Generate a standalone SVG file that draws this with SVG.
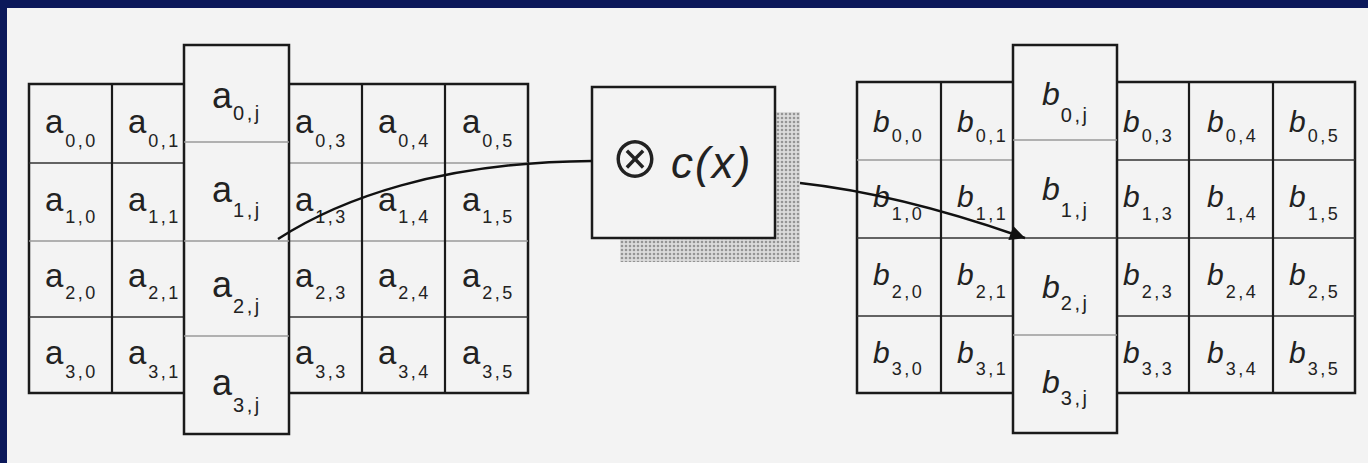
<svg xmlns="http://www.w3.org/2000/svg" width="1368" height="463" viewBox="0 0 1368 463">
<defs>
<style>
.bg{fill:#f3f3f3}
.box{fill:#f3f3f3;stroke:#1a1a1a;stroke-width:2.5}
.vd{stroke:#1a1a1a;stroke-width:2.2}
.hd{stroke:#333;stroke-width:1.6}
.hl{stroke:#9a9a9a;stroke-width:1.6}
.a{font-family:"Liberation Sans",Arial,sans-serif;font-size:33px;fill:#222}
.at{font-family:"Liberation Sans",Arial,sans-serif;font-size:36px;fill:#222}
.b{font-family:"Liberation Sans",Arial,sans-serif;font-size:30px;font-style:italic;fill:#222}
.bt{font-family:"Liberation Sans",Arial,sans-serif;font-size:32px;font-style:italic;fill:#222}
.s{font-size:18px;letter-spacing:2.5px;font-style:normal}
.st{font-size:20px;letter-spacing:2.5px;font-style:normal}
.conn{fill:none;stroke:#111;stroke-width:2.5}
</style>
<pattern id="dots" width="4" height="4" patternUnits="userSpaceOnUse">
<rect width="4" height="4" fill="#dcdcdc"/>
<circle cx="2" cy="2" r="1.3" fill="#959595"/>
</pattern>
<marker id="arr" viewBox="0 0 10 10" refX="10" refY="5" markerWidth="10" markerHeight="6" markerUnits="strokeWidth" orient="auto">
<path d="M0,0 L10,5 L0,10 z" fill="#111"/>
</marker>
</defs>
<rect width="1368" height="463" class="bg"/>
<rect x="0" y="0" width="1368" height="8" fill="#0b185a"/>
<rect x="0" y="0" width="7" height="463" fill="#0b185a"/>

<g id="matrix-a">
<rect x="29" y="84" width="499" height="309" class="box"/>
<line x1="29" y1="163" x2="184" y2="163" class="hd"/>
<line x1="29" y1="241" x2="184" y2="241" class="hl"/>
<line x1="29" y1="317" x2="184" y2="317" class="hd"/>
<line x1="289" y1="163" x2="528" y2="163" class="hl"/>
<line x1="289" y1="241" x2="528" y2="241" class="hl"/>
<line x1="289" y1="317" x2="528" y2="317" class="hd"/>
<line x1="112" y1="84" x2="112" y2="393" class="vd"/>
<line x1="362" y1="84" x2="362" y2="393" class="vd"/>
<line x1="445" y1="84" x2="445" y2="393" class="vd"/>
<rect x="184" y="45" width="105" height="389" class="box"/>
<line x1="184" y1="142" x2="289" y2="142" class="hl"/>
<line x1="184" y1="241" x2="289" y2="241" class="hl"/>
<line x1="184" y1="336" x2="289" y2="336" class="hl"/>
<text class="a" x="45" y="133">a<tspan class="s" dx="2" dy="14">0,0</tspan></text>
<text class="a" x="128" y="133">a<tspan class="s" dx="2" dy="14">0,1</tspan></text>
<text class="a" x="295" y="133">a<tspan class="s" dx="2" dy="14">0,3</tspan></text>
<text class="a" x="378" y="133">a<tspan class="s" dx="2" dy="14">0,4</tspan></text>
<text class="a" x="462" y="133">a<tspan class="s" dx="2" dy="14">0,5</tspan></text>
<text class="a" x="45" y="211">a<tspan class="s" dx="2" dy="12">1,0</tspan></text>
<text class="a" x="128" y="211">a<tspan class="s" dx="2" dy="12">1,1</tspan></text>
<text class="a" x="295" y="211">a<tspan class="s" dx="2" dy="12">1,3</tspan></text>
<text class="a" x="378" y="211">a<tspan class="s" dx="2" dy="12">1,4</tspan></text>
<text class="a" x="462" y="211">a<tspan class="s" dx="2" dy="12">1,5</tspan></text>
<text class="a" x="45" y="287">a<tspan class="s" dx="2" dy="12">2,0</tspan></text>
<text class="a" x="128" y="287">a<tspan class="s" dx="2" dy="12">2,1</tspan></text>
<text class="a" x="295" y="287">a<tspan class="s" dx="2" dy="12">2,3</tspan></text>
<text class="a" x="378" y="287">a<tspan class="s" dx="2" dy="12">2,4</tspan></text>
<text class="a" x="462" y="287">a<tspan class="s" dx="2" dy="12">2,5</tspan></text>
<text class="a" x="45" y="364">a<tspan class="s" dx="2" dy="14">3,0</tspan></text>
<text class="a" x="128" y="364">a<tspan class="s" dx="2" dy="14">3,1</tspan></text>
<text class="a" x="295" y="364">a<tspan class="s" dx="2" dy="14">3,3</tspan></text>
<text class="a" x="378" y="364">a<tspan class="s" dx="2" dy="14">3,4</tspan></text>
<text class="a" x="462" y="364">a<tspan class="s" dx="2" dy="14">3,5</tspan></text>
<text class="at" x="212" y="108">a<tspan class="st" dx="1" dy="12">0,j</tspan></text>
<text class="at" x="212" y="202">a<tspan class="st" dx="1" dy="15">1,j</tspan></text>
<text class="at" x="212" y="297">a<tspan class="st" dx="1" dy="16">2,j</tspan></text>
<text class="at" x="212" y="395">a<tspan class="st" dx="1" dy="17">3,j</tspan></text>
</g>

<g id="op-cx">
<rect x="620" y="112" width="180" height="150" fill="url(#dots)"/>
<rect x="592" y="87" width="183" height="151" class="box"/>
<text x="635" y="178" text-anchor="middle" font-family="Noto Sans CJK SC,DejaVu Sans,sans-serif" font-size="50" fill="#222">⊗</text>
<text x="671" y="178" font-family="Liberation Sans,Arial,sans-serif" font-size="44" font-style="italic" letter-spacing="2" fill="#222">c(x)</text>
</g>

<g id="matrix-b">
<rect x="857" y="82" width="498" height="311" class="box"/>
<line x1="857" y1="160" x2="1013" y2="160" class="hl"/>
<line x1="857" y1="238" x2="1013" y2="238" class="hd"/>
<line x1="857" y1="316" x2="1013" y2="316" class="hd"/>
<line x1="1117" y1="160" x2="1355" y2="160" class="hd"/>
<line x1="1117" y1="238" x2="1355" y2="238" class="hd"/>
<line x1="1117" y1="316" x2="1355" y2="316" class="hd"/>
<line x1="941" y1="82" x2="941" y2="393" class="vd"/>
<line x1="1189" y1="82" x2="1189" y2="393" class="vd"/>
<line x1="1273" y1="82" x2="1273" y2="393" class="vd"/>
<rect x="1013" y="45" width="104" height="388" class="box"/>
<line x1="1013" y1="140" x2="1117" y2="140" class="hl"/>
<line x1="1013" y1="238" x2="1117" y2="238" class="hd"/>
<line x1="1013" y1="335" x2="1117" y2="335" class="hl"/>
<text class="b" x="873" y="132">b<tspan class="s" dx="2" dy="10">0,0</tspan></text>
<text class="b" x="957" y="132">b<tspan class="s" dx="2" dy="10">0,1</tspan></text>
<text class="b" x="1123" y="132">b<tspan class="s" dx="2" dy="10">0,3</tspan></text>
<text class="b" x="1207" y="132">b<tspan class="s" dx="2" dy="10">0,4</tspan></text>
<text class="b" x="1289" y="132">b<tspan class="s" dx="2" dy="10">0,5</tspan></text>
<text class="b" x="873" y="207">b<tspan class="s" dx="2" dy="13">1,0</tspan></text>
<text class="b" x="957" y="207">b<tspan class="s" dx="2" dy="13">1,1</tspan></text>
<text class="b" x="1123" y="207">b<tspan class="s" dx="2" dy="13">1,3</tspan></text>
<text class="b" x="1207" y="207">b<tspan class="s" dx="2" dy="13">1,4</tspan></text>
<text class="b" x="1289" y="207">b<tspan class="s" dx="2" dy="13">1,5</tspan></text>
<text class="b" x="873" y="285">b<tspan class="s" dx="2" dy="13">2,0</tspan></text>
<text class="b" x="957" y="285">b<tspan class="s" dx="2" dy="13">2,1</tspan></text>
<text class="b" x="1123" y="285">b<tspan class="s" dx="2" dy="13">2,3</tspan></text>
<text class="b" x="1207" y="285">b<tspan class="s" dx="2" dy="13">2,4</tspan></text>
<text class="b" x="1289" y="285">b<tspan class="s" dx="2" dy="13">2,5</tspan></text>
<text class="b" x="873" y="363">b<tspan class="s" dx="2" dy="12">3,0</tspan></text>
<text class="b" x="957" y="363">b<tspan class="s" dx="2" dy="12">3,1</tspan></text>
<text class="b" x="1123" y="363">b<tspan class="s" dx="2" dy="12">3,3</tspan></text>
<text class="b" x="1207" y="363">b<tspan class="s" dx="2" dy="12">3,4</tspan></text>
<text class="b" x="1289" y="363">b<tspan class="s" dx="2" dy="12">3,5</tspan></text>
<text class="bt" x="1042" y="105">b<tspan class="st" dx="1" dy="17">0,j</tspan></text>
<text class="bt" x="1042" y="200">b<tspan class="st" dx="1" dy="17">1,j</tspan></text>
<text class="bt" x="1042" y="298">b<tspan class="st" dx="1" dy="12">2,j</tspan></text>
<text class="bt" x="1042" y="393">b<tspan class="st" dx="1" dy="12">3,j</tspan></text>
</g>

<g id="connectors">
<path class="conn" d="M278,239 C340,199 440,162 592,161"/>
<path class="conn" d="M800,183 Q900,194 1025,238" marker-end="url(#arr)"/>
</g>
</svg>
